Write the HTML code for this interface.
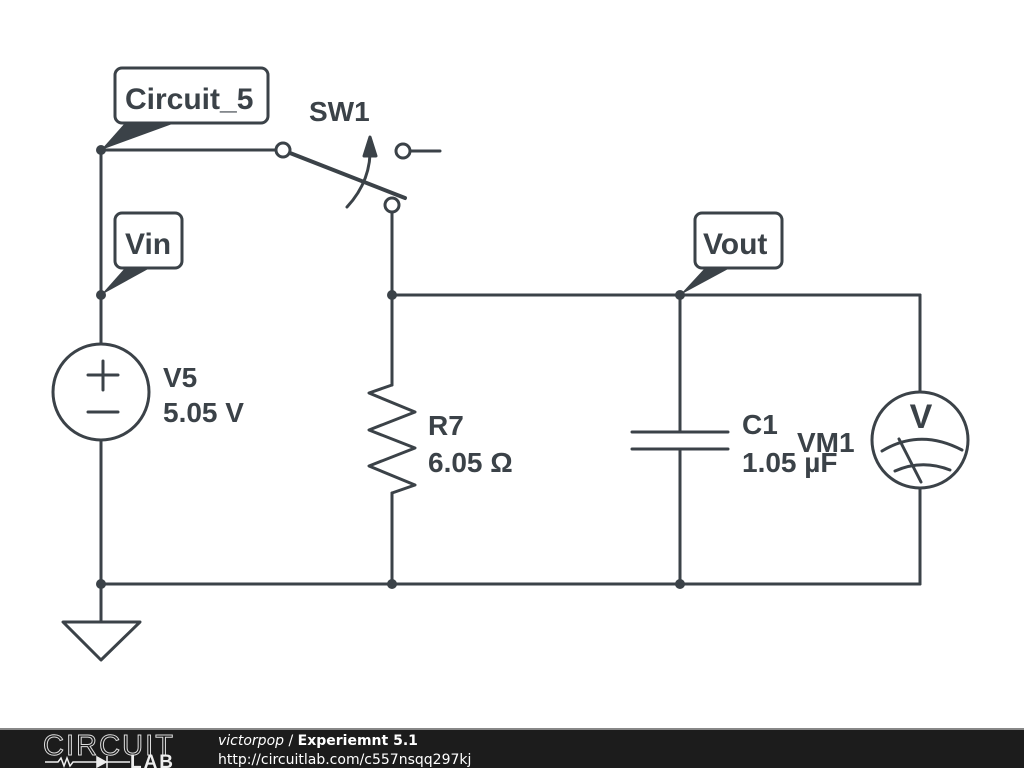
<!DOCTYPE html>
<html><head><meta charset="utf-8"><style>
html,body{margin:0;padding:0;background:#fff;}
svg{display:block;}
text{font-family:"Liberation Sans",sans-serif;font-weight:bold;fill:#3b4248;}
</style></head><body>
<svg width="1024" height="768" viewBox="0 0 1024 768" xmlns="http://www.w3.org/2000/svg">
<g stroke="#3b4248" stroke-width="3" fill="none" stroke-linecap="round" stroke-linejoin="round">
<line x1="101" y1="150" x2="101" y2="344"/>
<line x1="101" y1="440" x2="101" y2="622"/>
<line x1="101" y1="150" x2="276" y2="150"/>
<circle cx="283" cy="150" r="7" fill="#fff"/>
<circle cx="403" cy="151" r="7" fill="#fff"/>
<line x1="410" y1="151" x2="440" y2="151"/>
<line x1="290" y1="153" x2="405" y2="198" stroke-width="4"/>
<circle cx="392" cy="205" r="7" fill="#fff"/>
<path d="M347 207 Q372 180 370 145"/>
<path d="M364 156 L370 137 L376 156 Z" fill="#3b4248"/>
<line x1="392" y1="212" x2="392" y2="385"/>
<polyline points="392,385 369,393 415,412 369,430 415,448 369,466 415,485 392,493"/>
<line x1="392" y1="493" x2="392" y2="584"/>
<line x1="392" y1="295" x2="920" y2="295"/>
<line x1="920" y1="295" x2="920" y2="392"/>
<line x1="920" y1="488" x2="920" y2="584"/>
<line x1="680" y1="295" x2="680" y2="432"/>
<line x1="680" y1="449" x2="680" y2="584"/>
<line x1="632" y1="432" x2="728" y2="432"/>
<line x1="632" y1="449" x2="728" y2="449"/>
<line x1="101" y1="584" x2="920" y2="584"/>
<polygon points="63,622 140,622 101,660"/>
<circle cx="101" cy="392" r="48"/>
<line x1="88" y1="375" x2="118" y2="375"/>
<line x1="103" y1="361" x2="103" y2="390"/>
<line x1="88" y1="412" x2="118" y2="412"/>
<circle cx="920" cy="440" r="48"/>
<path d="M882 451 Q920 428 962 450"/>
<path d="M895 471 Q922 459 950 470"/>
<line x1="899" y1="439" x2="921" y2="482"/>
<rect x="115" y="68" width="153" height="55" rx="7" fill="#fff"/>
<rect x="115" y="213" width="67" height="55" rx="7" fill="#fff"/>
<rect x="695" y="213" width="87" height="55" rx="7" fill="#fff"/>
</g>
<g fill="#3b4248">
<polygon points="101,150 125,123 175,123"/>
<polygon points="101,295 125,268 150,268"/>
<polygon points="680,295 705,268 730,268"/>
<circle cx="101" cy="150" r="5"/><circle cx="101" cy="295" r="5"/>
<circle cx="392" cy="295" r="5"/><circle cx="680" cy="295" r="5"/>
<circle cx="101" cy="584" r="5"/><circle cx="392" cy="584" r="5"/>
<circle cx="680" cy="584" r="5"/>
</g>
<text x="125" y="109" font-size="30">Circuit_5</text>
<text x="125" y="254" font-size="30">Vin</text>
<text x="703" y="254" font-size="30">Vout</text>
<text x="309" y="121" font-size="28">SW1</text>
<text x="163" y="387" font-size="28">V5</text>
<text x="163" y="422" font-size="28">5.05 V</text>
<text x="428" y="435" font-size="28">R7</text>
<text x="428" y="472" font-size="28">6.05 Ω</text>
<text x="742" y="434" font-size="28">C1</text>
<text x="742" y="472" font-size="28">1.05 µF</text>
<text x="797" y="452" font-size="28">VM1</text>
<text x="921" y="428" font-size="34" text-anchor="middle">V</text>
<rect x="0" y="729" width="1024" height="39" fill="#1c1c1c"/>
<rect x="0" y="728" width="1024" height="2" fill="#888"/>
<text x="43" y="755" font-size="29" textLength="130" style="fill:none;stroke:#ddd;stroke-width:1;font-weight:normal">CIRCUIT</text>
<g stroke="#eee" stroke-width="1.5" fill="none">
<polyline points="45,762 58,762 61,758 64,766 67,758 70,766 73,762 85,762"/>
<line x1="85" y1="762" x2="130" y2="762"/>
<polygon points="97,757 97,767 106,762" fill="#eee"/>
<line x1="107" y1="756" x2="107" y2="768"/>
</g>
<text x="130" y="768" font-size="19" textLength="43" style="fill:#eee">LAB</text>
<text x="218" y="745" font-size="14" style="fill:#fff;font-weight:normal;font-family:'DejaVu Sans',sans-serif"><tspan font-style="italic">victorpop</tspan> / <tspan font-weight="bold">Experiemnt 5.1</tspan></text>
<text x="218" y="764" font-size="14" style="fill:#fff;font-weight:normal;font-family:'DejaVu Sans',sans-serif">http://circuitlab.com/c557nsqq297kj</text>
</svg>
</body></html>
